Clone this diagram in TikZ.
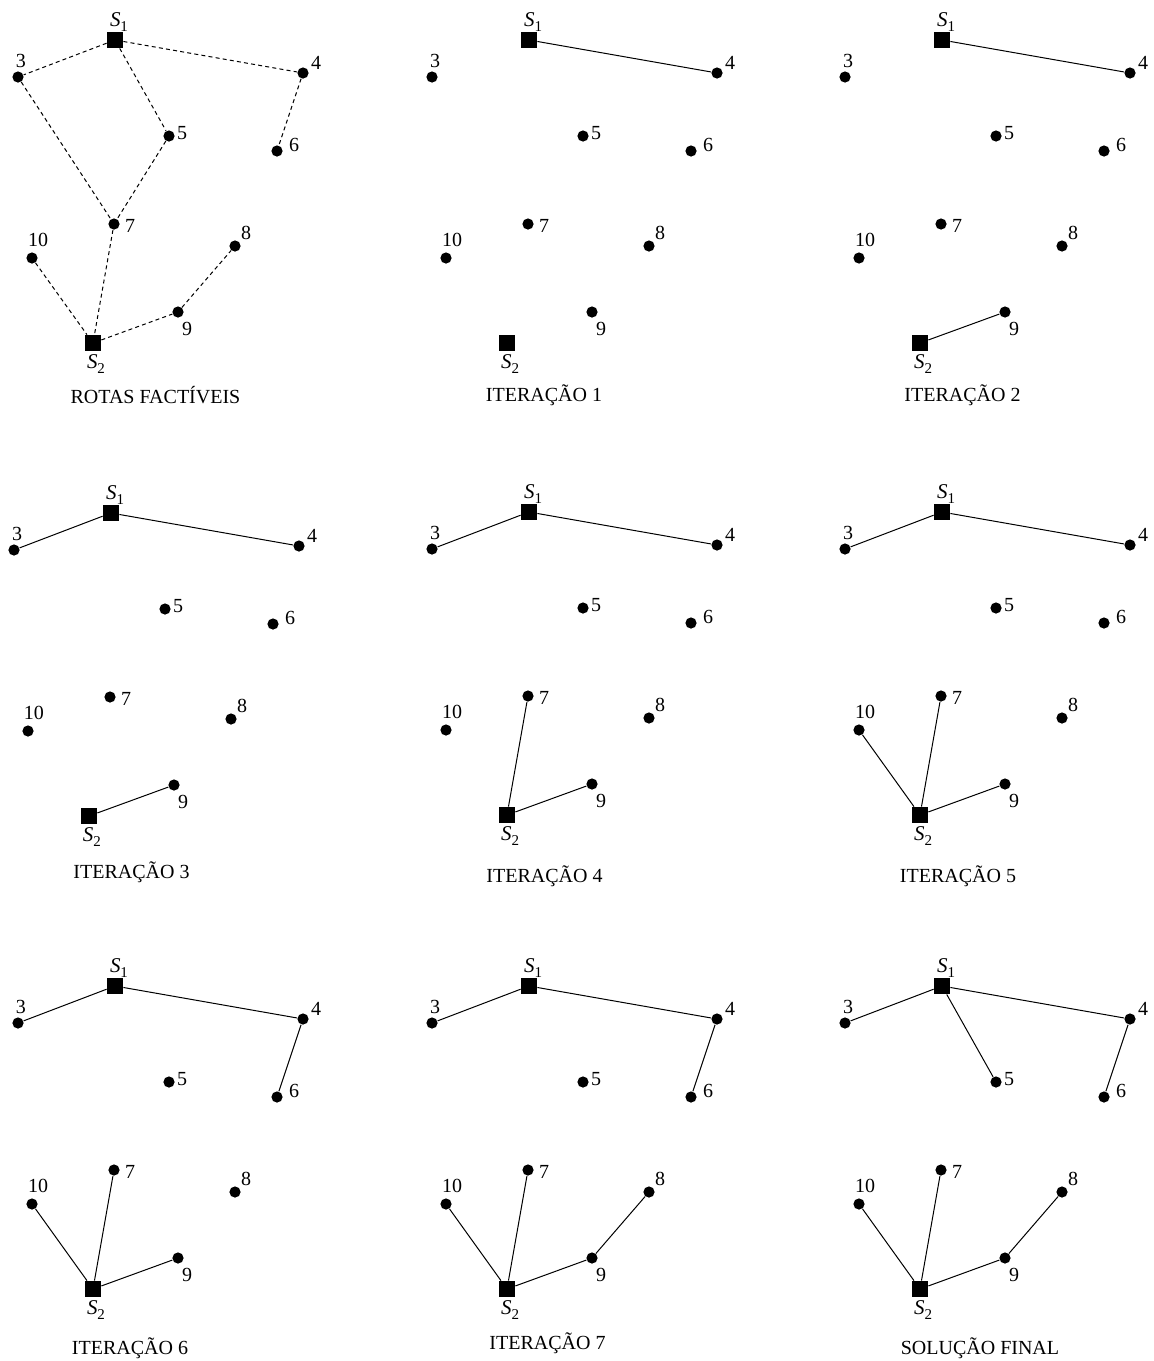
\documentclass[tikz,border=0pt]{standalone}
\usepackage{fontspec}
\setmainfont{Liberation Serif}
\newcommand\depotname[1]{{\fontsize{10.5}{12}\selectfont\textit{S}\raisebox{-0.25em}{\fontsize{7.5}{9}\selectfont #1}}}
\begin{document}
\begin{tikzpicture}[x=0.5pt,y=-0.5pt,
  dot/.style={circle,fill=black,inner sep=0pt,minimum size=5.6pt},
  depot/.style={rectangle,fill=black,inner sep=0pt,minimum size=8pt},
  lbl/.style={inner sep=0pt,font=\fontsize{10}{12}\selectfont},
  captxt/.style={inner sep=0pt,font=\fontsize{10}{12}\selectfont},
  edge/.style={line width=0.5pt},
  feas/.style={line width=0.5pt,dash pattern=on 2pt off 1.6pt}]
\useasboundingbox (0,0) rectangle (1154,1361);
\newcommand\drawpanel[3]{%
\begin{scope}[shift={(#1,#2)}]
\node[depot] (#3-S1) at (115,40) {};
\node[dot] (#3-3) at (18,77) {};
\node[dot] (#3-4) at (303,73) {};
\node[dot] (#3-5) at (169,136) {};
\node[dot] (#3-6) at (277,151) {};
\node[dot] (#3-7) at (114,224) {};
\node[dot] (#3-10) at (32,258) {};
\node[dot] (#3-8) at (235,246) {};
\node[dot] (#3-9) at (178,312) {};
\node[depot] (#3-S2) at (93,343) {};
\node[lbl] (#3-lS1) at (119,22) {\depotname{1}};
\node[lbl] (#3-l3) at (21,61) {3};
\node[lbl] (#3-l4) at (316,63) {4};
\node[lbl] (#3-l5) at (182,133) {5};
\node[lbl] (#3-l6) at (294,145) {6};
\node[lbl] (#3-l7) at (130,226) {7};
\node[lbl] (#3-l10) at (38,240) {10};
\node[lbl] (#3-l8) at (246,233) {8};
\node[lbl] (#3-l9) at (187,329) {9};
\node[lbl] (#3-lS2) at (96,364) {\depotname{2}};
\end{scope}}
\drawpanel{0}{0}{a}
\drawpanel{414}{0}{b}
\drawpanel{827}{0}{c}
\drawpanel{-4}{473}{d}
\drawpanel{414}{472}{e}
\drawpanel{827}{472}{f}
\drawpanel{0}{946}{g}
\drawpanel{414}{946}{h}
\drawpanel{827}{946}{k}
% captions
\node[captxt] (capa) at (155.5,395) {ROTAS FACTÍVEIS};
\node[captxt] (capb) at (544,395) {ITERAÇÃO 1};
\node[captxt] (capc) at (962.5,395) {ITERAÇÃO 2};
\node[captxt] (capd) at (131.5,872) {ITERAÇÃO 3};
\node[captxt] (cape) at (544.5,876) {ITERAÇÃO 4};
\node[captxt] (capf) at (958,876) {ITERAÇÃO 5};
\node[captxt] (capg) at (130,1348) {ITERAÇÃO 6};
\node[captxt] (caph) at (547.5,1343) {ITERAÇÃO 7};
\node[captxt] (capk) at (980,1348) {SOLUÇÃO FINAL};
% feasible routes
\draw[feas] (a-S1) -- (a-3);
\draw[feas] (a-S1) -- (a-4);
\draw[feas] (a-S1) -- (a-5);
\draw[feas] (a-3) -- (a-7);
\draw[feas] (a-5) -- (a-7);
\draw[feas] (a-4) -- (a-6);
\draw[feas] (a-7) -- (a-S2);
\draw[feas] (a-10) -- (a-S2);
\draw[feas] (a-S2) -- (a-9);
\draw[feas] (a-9) -- (a-8);
% iteration 1
\draw[edge] (b-S1) -- (b-4);
% iteration 2
\draw[edge] (c-S1) -- (c-4);
\draw[edge] (c-S2) -- (c-9);
% iteration 3
\draw[edge] (d-S1) -- (d-4);
\draw[edge] (d-S1) -- (d-3);
\draw[edge] (d-S2) -- (d-9);
% iteration 4
\draw[edge] (e-S1) -- (e-4);
\draw[edge] (e-S1) -- (e-3);
\draw[edge] (e-S2) -- (e-9);
\draw[edge] (e-S2) -- (e-7);
% iteration 5
\draw[edge] (f-S1) -- (f-4);
\draw[edge] (f-S1) -- (f-3);
\draw[edge] (f-S2) -- (f-9);
\draw[edge] (f-S2) -- (f-7);
\draw[edge] (f-S2) -- (f-10);
% iteration 6
\draw[edge] (g-S1) -- (g-4);
\draw[edge] (g-S1) -- (g-3);
\draw[edge] (g-S2) -- (g-9);
\draw[edge] (g-S2) -- (g-7);
\draw[edge] (g-S2) -- (g-10);
\draw[edge] (g-4) -- (g-6);
% iteration 7
\draw[edge] (h-S1) -- (h-4);
\draw[edge] (h-S1) -- (h-3);
\draw[edge] (h-S2) -- (h-9);
\draw[edge] (h-S2) -- (h-7);
\draw[edge] (h-S2) -- (h-10);
\draw[edge] (h-4) -- (h-6);
\draw[edge] (h-9) -- (h-8);
% final solution
\draw[edge] (k-S1) -- (k-4);
\draw[edge] (k-S1) -- (k-3);
\draw[edge] (k-S2) -- (k-9);
\draw[edge] (k-S2) -- (k-7);
\draw[edge] (k-S2) -- (k-10);
\draw[edge] (k-4) -- (k-6);
\draw[edge] (k-9) -- (k-8);
\draw[edge] (k-S1) -- (k-5);
\end{tikzpicture}
\end{document}
